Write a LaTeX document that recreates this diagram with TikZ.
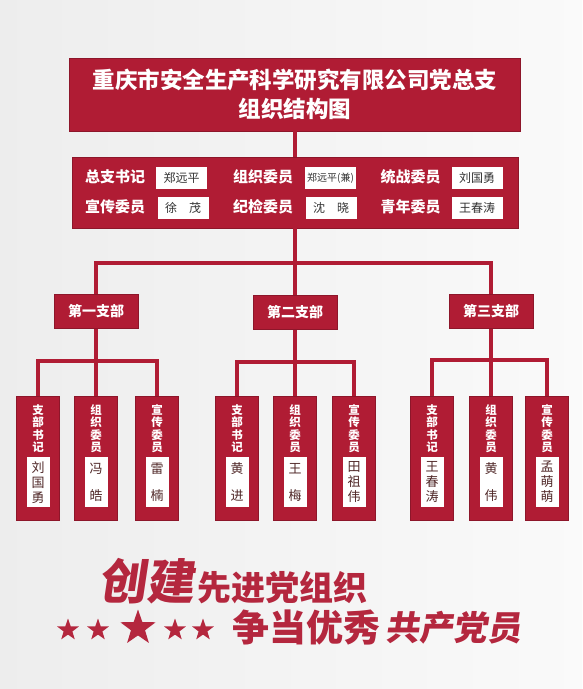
\documentclass[tikz,border=0pt]{standalone}
\usepackage{fontspec}
\setmainfont{Noto Sans CJK SC}
\newfontfamily\brushfont{Noto Sans CJK SC}[FakeSlant=0.15]
\usetikzlibrary{positioning,shapes.geometric}
\definecolor{wallred}{RGB}{176,28,52}
\definecolor{nameink}{RGB}{80,40,40}

\begin{document}
\begin{tikzpicture}[x=1pt,y=-1pt,
  panel/.style={fill=wallred,draw=wallred!80!black,line width=.6pt,inner sep=0pt},
  link/.style={draw=wallred,line width=4.5pt},
  clabel/.style={text=white,font=\bfseries\fontsize{15}{15}\selectfont,inner sep=0pt},
  cname/.style={fill=white,text=black!80,font=\fontsize{12}{12}\selectfont,minimum width=51pt,minimum height=22pt,inner sep=0pt},
  branch/.style={panel,minimum width=84pt,minimum height=34pt,text=white,font=\bfseries\fontsize{14}{14}\selectfont},
  member/.style={panel,anchor=north,minimum width=43pt,minimum height=124pt},
  mtitle/.style={text=white,font=\bfseries\fontsize{11.5}{12.6}\selectfont,align=center,inner sep=0pt},
  mname/.style={fill=white,text=nameink,font=\fontsize{13}{15}\selectfont,align=center,minimum width=23pt,minimum height=50pt,inner sep=0pt},
  slogan/.style={anchor=base west,text=wallred!95!white,inner sep=0pt},
  flag/.style={star,star points=5,star point ratio=2.5,fill=wallred!95!white,inner sep=0pt}]
\shade[left color=black!7,right color=black!2] (0,0) rectangle (582,689);
\path[use as bounding box] (0,0) rectangle (582,689);
% head panels
\node[panel,minimum width=451pt,minimum height=73pt,text=white,align=center,font=\bfseries\fontsize{22.5}{29}\selectfont] (title) at (295,94.5) {重庆市安全生产科学研究有限公司党总支\\组织结构图};
\node[panel,minimum width=446pt,minimum height=71pt] (comm) at (295,192.5) {};
\node[clabel] (sj) at (115,177) {总支书记};
\node[cname] (sjn) at (181.5,178) {郑远平};
\node[clabel] (xc) at (115,207) {宣传委员};
\node[cname] (xcn) at (183,207.5) {徐\quad 茂};
\node[clabel] (zz) at (263,177) {组织委员};
\node[cname,font=\fontsize{10}{10}\selectfont] (zzn) at (330.5,178) {郑远平(兼)};
\node[clabel] (jj) at (263,207) {纪检委员};
\node[cname] (jjn) at (331,207.5) {沈\quad 晓};
\node[clabel] (tz) at (410.5,177) {统战委员};
\node[cname] (tzn) at (477,178) {刘国勇};
\node[clabel] (qn) at (410.5,207) {青年委员};
\node[cname] (qnn) at (477,207.5) {王春涛};
% branches
\node[branch] (zb1) at (96,311.5) {第一支部};
\node[branch] (zb2) at (295,312.5) {第二支部};
\node[branch] (zb3) at (491,311.5) {第三支部};
\coordinate (hub) at (295,263);
\draw[link] (title.south) -- (comm.north);
\draw[link] (comm.south) -- (hub);
\draw[link] (zb1.north) |- (hub) -| (zb3.north);
\draw[link] (hub) -- (zb2.north);
% members
\node[member] (m11) at (38,396) {};
\node[member] (m12) at (96,396) {};
\node[member] (m13) at (157,396) {};
\node[member] (m21) at (237,396) {};
\node[member] (m22) at (295,396) {};
\node[member] (m23) at (354,396) {};
\node[member] (m31) at (432,396) {};
\node[member] (m32) at (491,396) {};
\node[member] (m33) at (547,396) {};
\coordinate (bar1) at (96,361);
\coordinate (bar2) at (295,362);
\coordinate (bar3) at (491,360);
\draw[link] (zb1.south) -- (m12.north);
\draw[link] (m11.north) |- (bar1) -| (m13.north);
\draw[link] (zb2.south) -- (m22.north);
\draw[link] (m21.north) |- (bar2) -| (m23.north);
\draw[link] (zb3.south) -- (m32.north);
\draw[link] (m31.north) |- (bar3) -| (m33.north);
\node[mtitle,below=8pt of m11.north] (t11) {支\\部\\书\\记};
\node[mname,below=61pt of m11.north] (n11) {刘\\国\\勇};
\node[mtitle,below=8pt of m12.north] (t12) {组\\织\\委\\员};
\node[mname,below=61pt of m12.north] (n12) {冯\\[12pt]皓};
\node[mtitle,below=8pt of m13.north] (t13) {宣\\传\\委\\员};
\node[mname,below=61pt of m13.north] (n13) {雷\\[12pt]楠};
\node[mtitle,below=8pt of m21.north] (t21) {支\\部\\书\\记};
\node[mname,below=61pt of m21.north] (n21) {黄\\[12pt]进};
\node[mtitle,below=8pt of m22.north] (t22) {组\\织\\委\\员};
\node[mname,below=61pt of m22.north] (n22) {王\\[12pt]梅};
\node[mtitle,below=8pt of m23.north] (t23) {宣\\传\\委\\员};
\node[mname,below=61pt of m23.north] (n23) {田\\祖\\伟};
\node[mtitle,below=8pt of m31.north] (t31) {支\\部\\书\\记};
\node[mname,below=61pt of m31.north] (n31) {王\\春\\涛};
\node[mtitle,below=8pt of m32.north] (t32) {组\\织\\委\\员};
\node[mname,below=61pt of m32.north] (n32) {黄\\[12pt]伟};
\node[mtitle,below=8pt of m33.north] (t33) {宣\\传\\委\\员};
\node[mname,below=61pt of m33.north] (n33) {孟\\萌\\萌};
% slogan
\node[slogan,font=\brushfont\bfseries\fontsize{48}{48}\selectfont] (cj) at (98,599) {创建};
\node[slogan,font=\bfseries\fontsize{34}{34}\selectfont] (xj) at (197,600) {先进党组织};
\node[slogan,font=\bfseries\fontsize{37}{37}\selectfont] (zd) at (232,641) {争当优秀};
\node[slogan,font=\brushfont\bfseries\fontsize{34}{34}\selectfont] (gc) at (385,640) {共产党员};
\node[flag,minimum size=23pt] (s1) at (68,630) {};
\node[flag,minimum size=23pt] (s2) at (98,630) {};
\node[flag,minimum size=37pt] (s3) at (138,628) {};
\node[flag,minimum size=23pt] (s4) at (175,630) {};
\node[flag,minimum size=23pt] (s5) at (203,630) {};
\end{tikzpicture}
\end{document}
